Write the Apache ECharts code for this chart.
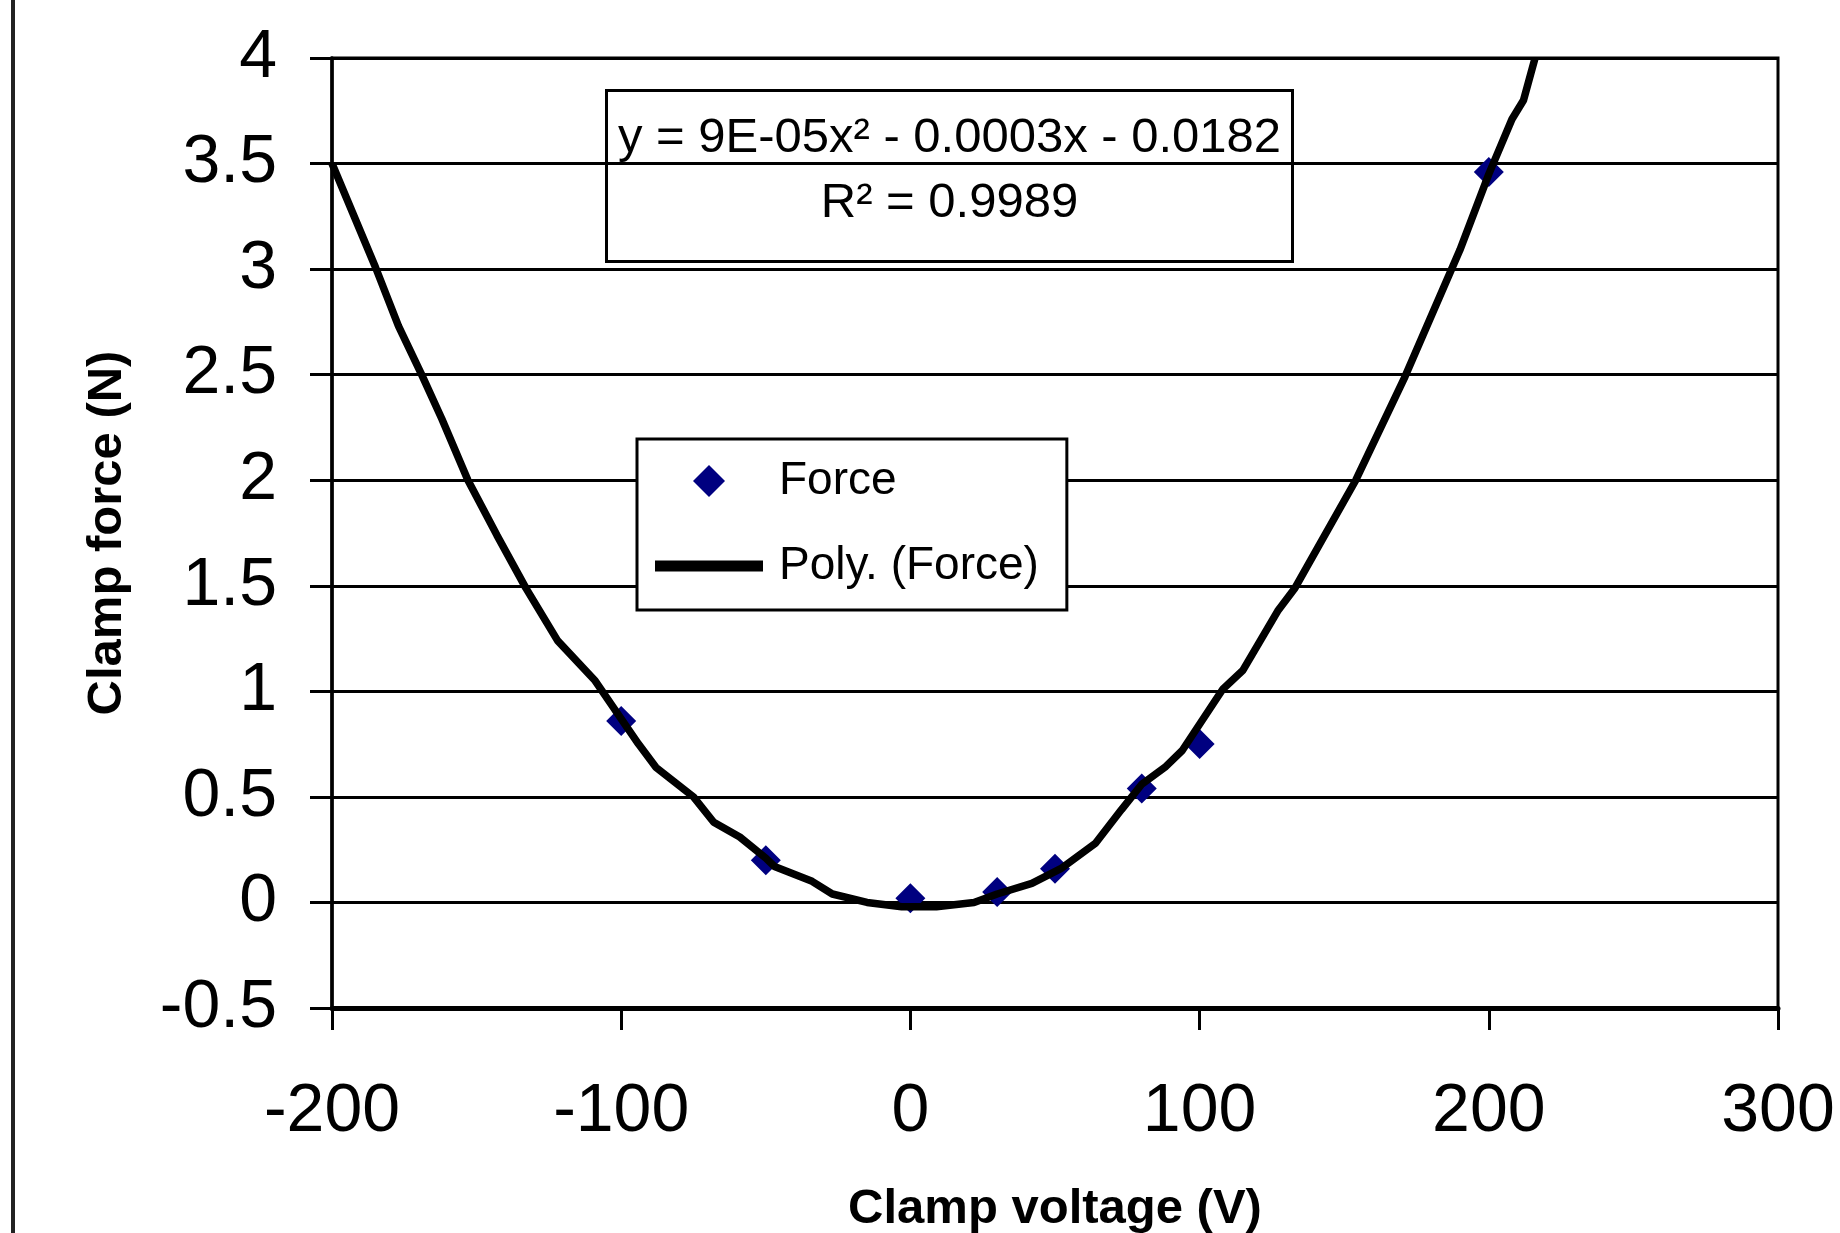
<!DOCTYPE html>
<html>
<head>
<meta charset="utf-8">
<script src="https://cdn.jsdelivr.net/npm/echarts@6/dist/echarts.min.js"></script>
<style>
  html, body { margin: 0; padding: 0; background: #fff; }
  #chart { width: 1840px; height: 1233px; }
</style>
</head>
<body>
<div id="chart"></div>
<script>
// measured force points
const forcePoints = [
  [-100, 0.86],
  [-50, 0.2],
  [0, 0.02],
  [30, 0.05],
  [50, 0.16],
  [80, 0.54],
  [100, 0.75],
  [200, 3.46]
];

// trendline as drawn in the picture
const polyPoints = [
  [-200, 3.5], [-185, 3.01], [-177, 2.73], [-169, 2.5], [-162, 2.29],
  [-153, 2.0], [-143, 1.74], [-133, 1.49], [-122, 1.24], [-109, 1.05],
  [-100, 0.87], [-94, 0.75], [-88, 0.64], [-75, 0.5], [-68, 0.38],
  [-59, 0.31], [-50, 0.21], [-47, 0.17], [-34, 0.1], [-27, 0.04],
  [-15, 0.0], [-3, -0.02], [9, -0.02], [22, 0.0], [30, 0.04],
  [42, 0.09], [52, 0.16], [64, 0.28], [73, 0.44], [80, 0.56],
  [88, 0.64], [94, 0.72], [108, 1.01], [115, 1.1], [121, 1.24],
  [127, 1.38], [133, 1.49], [154, 2.0], [171, 2.49], [190, 3.09],
  [200, 3.45], [208, 3.71], [212, 3.8], [216, 4.0]
];

const equationLines = ["y = 9E-05x\u00b2 - 0.0003x - 0.0182", "R\u00b2 = 0.9989"];

const font = "'Liberation Sans', Arial, sans-serif";

const chart = echarts.init(document.getElementById("chart"), null, { renderer: "canvas" });

chart.setOption({
  animation: false,
  backgroundColor: "#fff",
  grid: {
    left: 332,
    right: 62,
    top: 58,
    bottom: 225,
    outerBoundsMode: "none",
    containLabel: false,
    show: true,
    borderColor: "#000",
    borderWidth: 3
  },
  xAxis: {
    type: "value",
    min: -200,
    max: 300,
    interval: 100,
    name: "Clamp voltage (V)",
    nameLocation: "middle",
    nameGap: 177,
    nameTextStyle: { fontFamily: font, fontSize: 49, fontWeight: "bold", color: "#000" },
    axisLine: { show: true, onZero: false, lineStyle: { color: "#000", width: 5 } },
    axisTick: { show: true, length: 22, lineStyle: { color: "#000", width: 3 } },
    axisLabel: { fontFamily: font, fontSize: 68, color: "#000", margin: 70 },
    splitLine: { show: false }
  },
  yAxis: {
    type: "value",
    min: -0.5,
    max: 4,
    interval: 0.5,
    name: "Clamp force (N)",
    nameLocation: "middle",
    nameGap: 200,
    nameTextStyle: { fontFamily: font, fontSize: 49, fontWeight: "bold", color: "#000" },
    axisLine: { show: true, onZero: false, lineStyle: { color: "#000", width: 3.5 } },
    axisTick: { show: true, length: 22, lineStyle: { color: "#000", width: 3 } },
    axisLabel: { fontFamily: font, fontSize: 68, color: "#000", margin: 55 },
    splitLine: { show: true, lineStyle: { color: "#000", width: 3 } }
  },
  legend: {
    orient: "vertical",
    left: 637,
    top: 439,
    padding: [19, 28, 21, 18],
    itemGap: 39,
    itemWidth: 108,
    itemHeight: 32,
    symbolKeepAspect: true,
    backgroundColor: "#fff",
    borderColor: "#000",
    borderWidth: 3,
    borderRadius: 0,
    selectedMode: false,
    textStyle: { fontFamily: font, fontSize: 46, color: "#000", padding: [0, 0, 0, 11] },
    data: [
      {
        name: "Force",
        icon: "path://M0,-1L1,0L0,1L-1,0Z",
        itemStyle: { color: "#000080", opacity: 1 }
      },
      {
        name: "Poly. (Force)",
        icon: "path://M0,0H108V11H0Z",
        itemStyle: { color: "#000" }
      }
    ]
  },
  graphic: [
    {
      type: "line",
      shape: { x1: 13, y1: 0, x2: 13, y2: 1233 },
      style: { stroke: "#222", lineWidth: 4 }
    },
    {
      type: "group",
      left: 605,
      top: 89,
      z: 100,
      children: [
        {
          type: "rect",
          shape: { x: 0, y: 0, width: 686, height: 171 },
          style: { fill: "#fff", stroke: "#000", lineWidth: 3 }
        },
        {
          type: "text",
          x: 343,
          y: 48,
          style: {
            text: equationLines[0],
            font: "49px " + font,
            fill: "#000",
            textAlign: "center",
            textVerticalAlign: "middle"
          }
        },
        {
          type: "text",
          x: 343,
          y: 113,
          style: {
            text: equationLines[1],
            font: "49px " + font,
            fill: "#000",
            textAlign: "center",
            textVerticalAlign: "middle"
          }
        }
      ]
    }
  ],
  series: [
    {
      name: "Force",
      type: "scatter",
      symbol: "diamond",
      symbolSize: 30,
      itemStyle: { color: "#000080", opacity: 1 },
      data: forcePoints,
      z: 2
    },
    {
      name: "Poly. (Force)",
      type: "line",
      symbol: "none",
      showSymbol: false,
      smooth: false,
      clip: true,
      lineStyle: { color: "#000", width: 7.5 },
      data: polyPoints,
      z: 3
    }
  ]
});
</script>
</body>
</html>
